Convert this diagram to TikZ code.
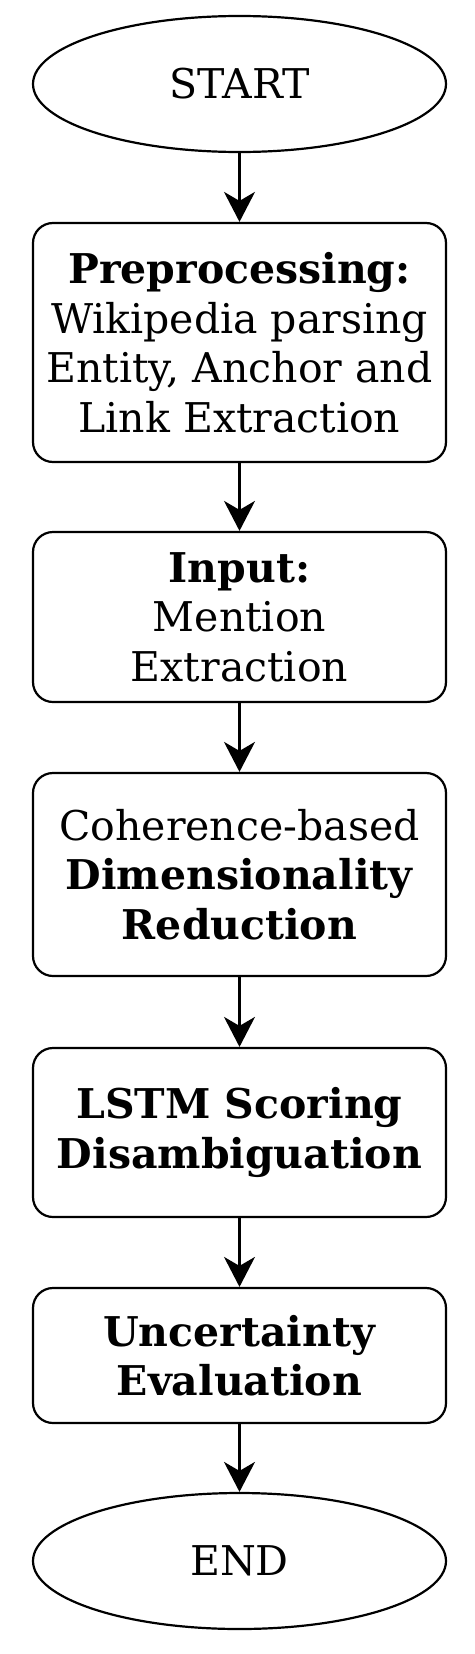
\documentclass[tikz,border=0pt]{standalone}
\usepackage{fontspec}
\setmainfont{DejaVu Serif}
\usetikzlibrary{arrows.meta,shapes.geometric}
\begin{document}
\begin{tikzpicture}[x=1pt, y=-1pt, line width=2.2pt,
  every node/.style={font=\fontsize{41}{49.5}\selectfont, align=center, inner sep=0pt},
  terminal/.style={draw, ellipse, minimum width=413pt, minimum height=136pt},
  stage/.style={draw, rounded corners=20pt, minimum width=413pt},
  flow/.style={-{Stealth[length=30pt,width=31pt,inset=9pt]}}]
\useasboundingbox (0,0) rectangle (474,1654);
\node[terminal] (start) at (239.5,84) {START};
\node[stage, minimum height=239pt] (prep) at (239.5,342.5) {\textbf{Preprocessing:}\\Wikipedia parsing\\Entity, Anchor and\\Link Extraction};
\node[stage, minimum height=170pt] (input) at (239.5,617) {\textbf{Input:}\\Mention\\Extraction};
\node[stage, minimum height=203pt] (reduce) at (239.5,874.5) {Coherence-based\\\textbf{Dimensionality}\\\textbf{Reduction}};
\node[stage, minimum height=169pt] (lstm) at (239.5,1132.5) {\textbf{LSTM Scoring}\\\textbf{Disambiguation}};
\node[stage, minimum height=135pt] (eval) at (239.5,1355.5) {\textbf{Uncertainty}\\\textbf{Evaluation}};
\node[terminal] (end) at (239.5,1561) {END};
\foreach \a/\b in {start/prep,prep/input,input/reduce,reduce/lstm,lstm/eval,eval/end}
  \draw[flow] (\a) -- (\b);
\end{tikzpicture}
\end{document}
